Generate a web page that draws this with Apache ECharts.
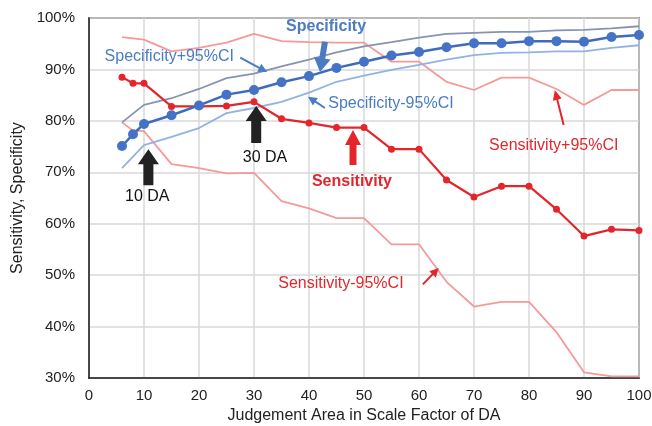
<!DOCTYPE html>
<html>
<head>
<meta charset="utf-8">
<script src="https://cdn.jsdelivr.net/npm/echarts@6/dist/echarts.min.js"></script>
<style>
  html, body { margin: 0; padding: 0; background: #fff; }
  #chart { width: 652px; height: 426px; }
</style>
</head>
<body>
<div id="chart"></div>
<script>
// judgement area (scale factor of DA) where the point estimates were taken
const xVals = [6, 8, 10, 15, 20, 25, 30, 35, 40, 45, 50, 55, 60, 65, 70, 75, 80, 85, 90, 95, 100];
const specificity = [75.1, 77.4, 79.4, 81.1, 83.0, 85.1, 86.0, 87.5, 88.7, 90.3, 91.5, 92.7, 93.4, 94.3, 95.1, 95.1, 95.5, 95.5, 95.4, 96.3, 96.7];
const sensitivity = [88.5, 87.3, 87.3, 82.8, 82.8, 82.9, 83.7, 80.4, 79.6, 78.7, 78.7, 74.5, 74.5, 68.5, 65.2, 67.3, 67.3, 62.8, 57.6, 58.9, 58.7];

// confidence bands, [x, y]
const specUpper = [[6, 79.7], [10, 83.1], [15, 84.4], [20, 86.2], [25, 88.3], [30, 89.2], [35, 90.6], [40, 91.9], [45, 93.3], [50, 94.5], [55, 95.3], [60, 96.2], [65, 96.9], [70, 97.1], [75, 97.3], [80, 97.3], [85, 97.6], [90, 97.7], [95, 98.0], [100, 98.4]];
const specLower = [[6, 70.8], [10, 75.3], [15, 76.9], [20, 78.6], [25, 81.5], [30, 82.5], [35, 83.7], [40, 85.5], [45, 87.6], [50, 88.8], [55, 89.9], [60, 90.9], [65, 91.9], [70, 92.8], [75, 93.2], [80, 93.3], [85, 93.5], [90, 93.5], [95, 94.2], [100, 94.7]];
const sensUpper = [[6, 96.3], [10, 95.8], [15, 93.5], [20, 94.2], [25, 95.2], [30, 96.9], [35, 95.5], [40, 95.3], [45, 95.2], [50, 95.2], [55, 91.5], [60, 91.5], [65, 87.6], [70, 86.0], [75, 88.4], [80, 88.4], [85, 86.2], [90, 83.1], [95, 86.0], [100, 86.0]];
const sensLower = [[6, 79.7], [8, 78.1], [10, 78.0], [15, 71.6], [20, 70.8], [25, 69.8], [30, 69.9], [35, 64.4], [40, 63.0], [45, 61.1], [50, 61.1], [55, 56.0], [60, 56.0], [65, 48.7], [70, 43.9], [75, 44.8], [80, 44.8], [85, 38.9], [90, 31.1], [95, 30.3], [100, 30.3]];

const xTicks = [0, 10, 20, 30, 40, 50, 60, 70, 80, 90, 100];
const yTicks = [30, 40, 50, 60, 70, 80, 90, 100];

const BLUE = "#4472c4";
const RED = "#e3262c";
const FONT = "Liberation Sans, Arial, sans-serif";

// annotations in data coordinates
const labels = [
  { text: "Specificity", at: [43.1, 98.3], color: "#4a7cc4", bold: true, size: 16 },
  { text: "Specificity+95%CI", at: [14.6, 92.5], color: "#4a7cc4", size: 16 },
  { text: "Specificity-95%CI", at: [54.9, 83.3], color: "#4a7cc4", size: 16 },
  { text: "Sensitivity", at: [47.8, 68.1], color: RED, bold: true, size: 16 },
  { text: "Sensitivity+95%CI", at: [84.5, 75.1], color: RED, size: 16 },
  { text: "Sensitivity-95%CI", at: [45.8, 48.4], color: RED, size: 16 },
  { text: "10 DA", at: [10.6, 65.2], color: "#111", size: 16 },
  { text: "30 DA", at: [32.0, 72.8], color: "#111", size: 16 }
];
const arrows = [
  { from: [42.9, 95.4], to: [42.0, 89.5], color: "#4a7cc4", shaft: 6, head: 17, len: 14 },
  { from: [27.5, 92.3], to: [32.4, 89.5], color: "#4a7cc4", shaft: 2, head: 9, len: 9 },
  { from: [42.9, 82.5], to: [39.8, 84.7], color: "#4a7cc4", shaft: 2, head: 9, len: 9 },
  { from: [48.0, 71.4], to: [48.0, 78.2], color: RED, shaft: 7, head: 16, len: 15 },
  { from: [86.3, 79.2], to: [84.7, 86.0], color: RED, shaft: 2, head: 9, len: 10 },
  { from: [60.7, 48.2], to: [63.6, 51.4], color: RED, shaft: 2, head: 9, len: 9 },
  { from: [10.8, 67.5], to: [10.8, 74.5], color: "#222", shaft: 10, head: 21, len: 15 },
  { from: [30.4, 75.7], to: [30.4, 82.9], color: "#222", shaft: 10, head: 21, len: 15 }
];

const chart = echarts.init(document.getElementById("chart"));

const option = {
  animation: false,
  grid: {
    left: 89, right: 13, top: 18, bottom: 48,
    outerBoundsMode: "none",
    show: true, borderColor: "#222", borderWidth: 1.5
  },
  xAxis: {
    type: "value",
    min: xTicks[0], max: xTicks[xTicks.length - 1], interval: 10,
    name: "Judgement Area in Scale Factor of DA",
    nameLocation: "middle", nameGap: 29,
    nameTextStyle: { fontFamily: FONT, fontSize: 16, color: "#222" },
    axisLine: { lineStyle: { color: "#222", width: 1.5 } },
    axisTick: { show: false },
    axisLabel: { fontFamily: FONT, fontSize: 15, color: "#222", margin: 10 },
    splitLine: { lineStyle: { color: "#d9d9d9", width: 1.5 } }
  },
  yAxis: {
    type: "value",
    min: yTicks[0], max: yTicks[yTicks.length - 1], interval: 10,
    name: "Sensitivity, Specificity",
    nameLocation: "middle", nameGap: 63,
    nameTextStyle: { fontFamily: FONT, fontSize: 16, color: "#222" },
    axisLine: { lineStyle: { color: "#222", width: 1.5 } },
    axisTick: { show: false },
    axisLabel: { fontFamily: FONT, fontSize: 15, color: "#222", margin: 14, formatter: "{value}%" },
    splitLine: { lineStyle: { color: "#d9d9d9", width: 1.5 } }
  },
  series: [
    {
      name: "Sensitivity-95%CI", type: "line", data: sensLower,
      symbol: "none", lineStyle: { color: "#f39a9a", width: 1.8 }, z: 2
    },
    {
      name: "Sensitivity+95%CI", type: "line", data: sensUpper,
      symbol: "none", lineStyle: { color: "#f39a9a", width: 1.8 }, z: 2
    },
    {
      name: "Specificity-95%CI", type: "line", data: specLower,
      symbol: "none", lineStyle: { color: "#92b2e4", width: 1.8 }, z: 2
    },
    {
      name: "Specificity+95%CI", type: "line", data: specUpper,
      symbol: "none", lineStyle: { color: "#8793b4", width: 1.8 }, z: 2
    },
    {
      name: "Sensitivity", type: "line",
      data: xVals.map((x, i) => [x, sensitivity[i]]),
      symbol: "circle", symbolSize: 7,
      itemStyle: { color: RED },
      lineStyle: { color: RED, width: 2.2 }, z: 3
    },
    {
      name: "Specificity", type: "line",
      data: xVals.map((x, i) => [x, specificity[i]]),
      symbol: "circle", symbolSize: 10,
      itemStyle: { color: BLUE },
      lineStyle: { color: "#3d6bbd", width: 2.5 }, z: 4
    }
  ]
};
chart.setOption(option);

// build arrow polygon from tail to tip (pixels)
function arrowShape(p0, p1, shaft, head, len) {
  const dx = p1[0] - p0[0], dy = p1[1] - p0[1];
  const L = Math.sqrt(dx * dx + dy * dy);
  const ux = dx / L, uy = dy / L;
  const nx = -uy, ny = ux;
  const bx = p1[0] - ux * len, by = p1[1] - uy * len;
  const s = shaft / 2, h = head / 2;
  return [
    [p0[0] + nx * s, p0[1] + ny * s],
    [bx + nx * s, by + ny * s],
    [bx + nx * h, by + ny * h],
    p1,
    [bx - nx * h, by - ny * h],
    [bx - nx * s, by - ny * s],
    [p0[0] - nx * s, p0[1] - ny * s]
  ];
}

const graphics = [];
arrows.forEach(a => {
  const p0 = chart.convertToPixel({ gridIndex: 0 }, a.from);
  const p1 = chart.convertToPixel({ gridIndex: 0 }, a.to);
  graphics.push({
    type: "polygon", z: 100,
    shape: { points: arrowShape(p0, p1, a.shaft, a.head, a.len) },
    style: { fill: a.color }
  });
});
labels.forEach(l => {
  const p = chart.convertToPixel({ gridIndex: 0 }, l.at);
  graphics.push({
    type: "text", z: 100, x: p[0], y: p[1],
    style: {
      text: l.text, fill: l.color,
      font: (l.bold ? "bold " : "") + l.size + "px " + FONT,
      align: "center", verticalAlign: "middle"
    }
  });
});
chart.setOption({ graphic: graphics });
</script>
</body>
</html>
